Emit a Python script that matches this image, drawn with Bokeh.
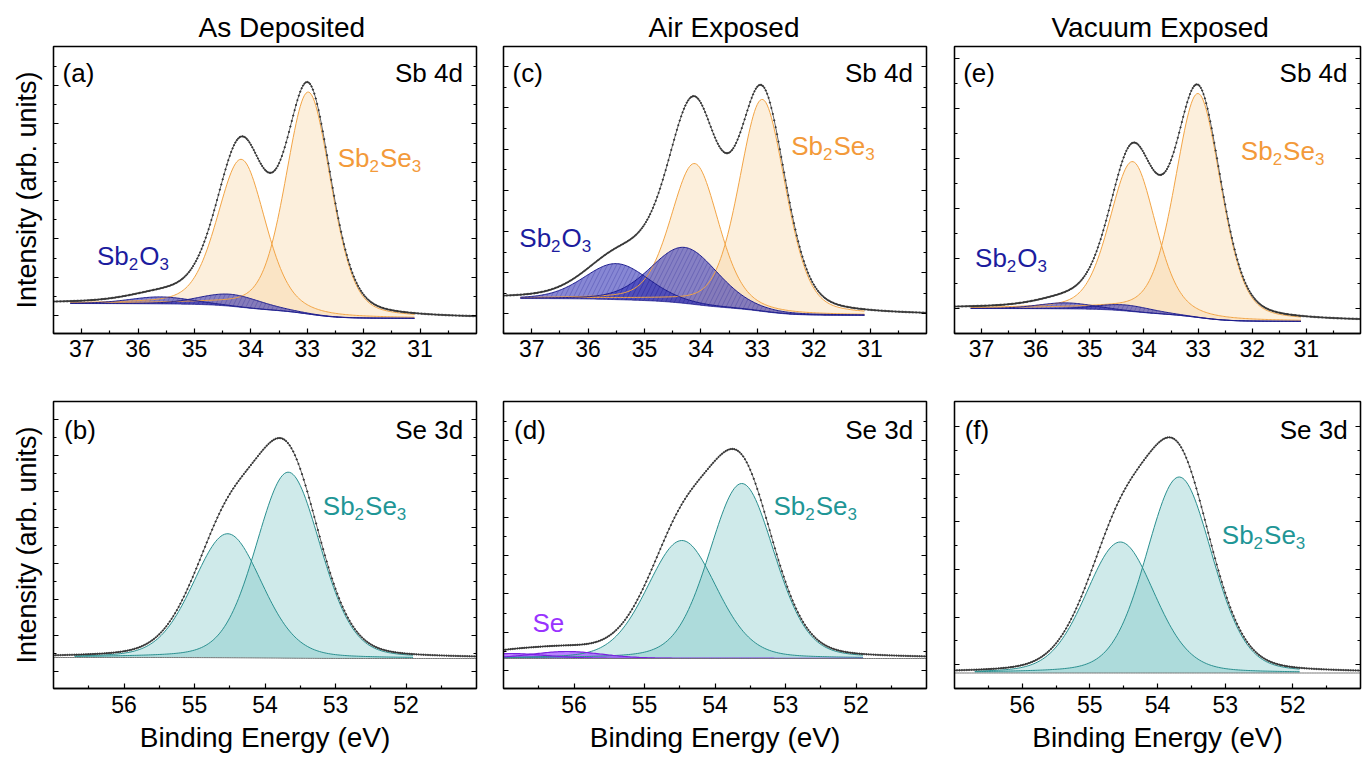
import numpy as np
from bokeh.plotting import figure
from bokeh.layouts import row, column
from bokeh.models import Range1d, FixedTicker, LinearAxis, Label, CustomLabelingPolicy
from bokeh.embed import file_html
from bokeh.resources import INLINE

FONT = "Liberation Sans"

# ---------------- data ----------------
conditions = ["As Deposited", "Air Exposed", "Vacuum Exposed"]
sb_tags = ["(a)", "(c)", "(e)"]
se_tags = ["(b)", "(d)", "(f)"]
sb4d_ticks = [37, 36, 35, 34, 33, 32, 31]
sb4d_minor = [37.5, 36.5, 35.5, 34.5, 33.5, 32.5, 31.5, 30.5]
se3d_ticks = [56, 55, 54, 53, 52]
se3d_minor = [56.5, 55.5, 54.5, 53.5, 52.5, 51.5]

# Sb 4d region: Sb2Se3 doublet (4d5/2, 4d3/2) -- centre (eV), height (a.u.), FWHM (eV)
sb_se_centers = [[32.98, 34.17], [32.91, 34.11], [33.00, 34.21]]
sb_se_heights = [[222, 148], [212, 141], [224, 150]]
sb_se_fwhm = [[0.95, 1.00], [0.97, 1.00], [1.00, 1.00]]
# Sb 4d region: Sb2O3 doublet
sb_ox_centers = [[34.36, 35.60], [34.29, 35.50], [34.35, 35.45]]
sb_ox_heights = [[12, 7], [56, 36], [6, 6]]
sb_ox_fwhm = [[1.30, 1.30], [1.40, 1.35], [1.20, 1.20]]
sb_bg_high = [30, 35, 25]
sb_bg_low = [15, 18, 12]

# Se 3d region: Sb2Se3 doublet (3d5/2, 3d3/2)
se_centers = [[53.67, 54.53], [53.62, 54.47], [53.68, 54.55]]
se_heights = [[186, 124], [175, 118], [196, 131]]
se_fwhm = [[1.08, 1.15], [1.09, 1.16], [1.15, 1.20]]
se_bg_high = [31, 30, 15.5]
se_bg_low = [30, 30, 15.5]
# elemental Se (air exposed only)
se0_centers = [56.1, 56.9]
se0_heights = [7, 5]
se0_fwhm = [1.2, 1.2]

# ---------------- styling / layout ----------------
ORANGE_LINE = "#F2A445"
ORANGE_FILL = "#F7D29A"
ORANGE_TEXT = "#F39A3A"
BLUE_LINE = "#1E1E8E"
BLUE_FILL = "#2424B0"
BLUE_TEXT = "#1C1C9E"
TEAL_LINE = "#2A8F8F"
TEAL_FILL = "#5FB8B8"
TEAL_TEXT = "#1F9696"
PURPLE_LINE = "#7B22E0"
PURPLE_FILL = "#9B4DFF"
PURPLE_TEXT = "#9933FF"

col_w = [489, 451, 422]
col_bl = [53, 14, 14]
col_br = [13, 14, 2]
title_offsets = [145, 145, 97]

top_ticks = [(18.0, 38.33), (19.7, 41.2), (24.7, 50.0)]
bot_ticks = [(17.3, 35.9), (18.0, 38.33), (23.7, 47.7)]

LY = 10  # baseline correction (px units)
sb_label_pos = [(32.46, 166 + LY), (32.40, 178 + LY), (32.21, 173 + LY)]
ox_label_pos = [(36.73, 68 + LY), (37.22, 86 + LY), (37.12, 66 + LY)]
se_label_pos = [(53.18, 173 + LY), (53.17, 173 + LY), (53.05, 144 + LY)]

WID = {"S": 0.667, "b": 0.556, "e": 0.556, "O": 0.778, "2": 0.556, "3": 0.556}


def pv(E, c, h, w, m):
    x = 4.0 * (E - c) ** 2 / w ** 2
    return h * ((1 - m) * np.exp(-np.log(2) * x) + m / (1 + x))


def shirley(total, low, high):
    cum = np.cumsum(total)
    cum = cum / cum[-1]
    return low + (high - low) * cum


def yticker(start, step, ymax=287):
    majors = []
    v = start
    while v < ymax - 2:
        majors.append(round(v, 2))
        v += step
    minors = [round(t + step / 2, 2) for t in majors if t + step / 2 < ymax - 2]
    if start - step / 2 > 1:
        minors.append(round(start - step / 2, 2))
    return FixedTicker(ticks=majors, minor_ticks=minors)


def chem(p, x, y, parts, color, size=26, sub=17):
    off = 0.0
    for txt, is_sub in parts:
        fs = sub if is_sub else size
        p.add_layout(Label(x=x, y=y, x_offset=off, y_offset=-8 if is_sub else 0,
                           text=txt, text_font=FONT, text_font_size=f"{fs}px",
                           text_color=color, text_baseline="alphabetic",
                           text_align="left"))
        off += sum(WID[c] for c in txt) * fs + (1 if is_sub else 0)


def base_fig(ci, top, xr, xt, xm, yt):
    h = 373 if top else 389
    p = figure(width=col_w[ci], height=h, x_range=Range1d(*xr), y_range=Range1d(0, 287),
               output_backend="svg", toolbar_location=None,
               min_border_left=col_bl[ci], min_border_right=col_br[ci],
               min_border_top=46 if top else 28, min_border_bottom=40 if top else 74)
    p.grid.visible = False
    p.background_fill_color = "white"
    p.border_fill_color = "white"
    p.outline_line_color = "black"
    p.outline_line_width = 1.3
    xa = p.xaxis[0]
    xa.ticker = FixedTicker(ticks=xt, minor_ticks=xm)
    xa.major_label_text_font = FONT
    xa.major_label_text_font_size = "23px"
    xa.major_label_text_color = "black"
    xa.major_label_standoff = 6 if top else 7
    xa.major_tick_in = 5
    xa.major_tick_out = 0
    xa.minor_tick_in = 3
    xa.minor_tick_out = 0
    xa.axis_line_width = 1.3
    xa.major_tick_line_width = 1.2
    xa.minor_tick_line_width = 1.2
    p.yaxis.ticker = yt
    raxis = LinearAxis(ticker=yt)
    p.add_layout(raxis, "right")
    for ax in [p.yaxis[0], raxis]:
        ax.major_tick_in = 5
        ax.major_tick_out = 0
        ax.minor_tick_in = 3
        ax.minor_tick_out = 0
        ax.major_label_text_font_size = "0px"
        ax.major_label_policy = CustomLabelingPolicy(code="return []")
        ax.major_label_standoff = 0
        ax.axis_line_width = 1.3
        ax.major_tick_line_width = 1.2
        ax.minor_tick_line_width = 1.2
    if ci == 0:
        ya = p.yaxis[0]
        ya.axis_label = "Intensity (arb. units)"
        ya.axis_label_text_font = FONT
        ya.axis_label_text_font_size = "27px"
        ya.axis_label_text_font_style = "normal"
        ya.axis_label_text_color = "black"
        ya.axis_label_standoff = 12
    if not top:
        xa.axis_label = "Binding Energy (eV)"
        xa.axis_label_text_font = FONT
        xa.axis_label_text_font_size = "28px"
        xa.axis_label_text_font_style = "normal"
        xa.axis_label_text_color = "black"
        xa.axis_label_standoff = 6
    return p


def draw_comp(p, E, base, comp, fill, alpha, line, hatch=False):
    kw = {}
    if hatch:
        kw = dict(hatch_pattern="/", hatch_color=line, hatch_alpha=0.35,
                  hatch_scale=9, hatch_weight=0.8)
    p.varea(x=E, y1=base, y2=base + comp, fill_color=fill, fill_alpha=alpha, **kw)


def tags(p, tag, region, xl, xr_, y):
    p.add_layout(Label(x=xl, y=y, text=tag, text_font=FONT, text_font_size="26px",
                       text_color="black", text_baseline="alphabetic", text_align="left"))
    p.add_layout(Label(x=xr_, y=y, text=region, text_font=FONT, text_font_size="26px",
                       text_color="black", text_baseline="alphabetic", text_align="right"))


top_figs, bot_figs = [], []
E_sb = np.round(np.arange(30.0, 37.5001, 0.025), 4)
E_se = np.round(np.arange(51.0, 57.0001, 0.025), 4)

for ci in range(3):
    # ---------- Sb 4d ----------
    p = base_fig(ci, True, (37.5, 30.0), sb4d_ticks, sb4d_minor,
                 yticker(*top_ticks[ci]))
    p.title.text = conditions[ci]
    p.title.align = "left"
    p.title.offset = title_offsets[ci]
    p.title.text_font = FONT
    p.title.text_font_size = "28px"
    p.title.text_font_style = "normal"
    p.title.text_color = "black"
    p.title.standoff = 8

    se_comps = [pv(E_sb, c, h, w, 0.3) for c, h, w in
                zip(sb_se_centers[ci], sb_se_heights[ci], sb_se_fwhm[ci])]
    ox_comps = [pv(E_sb, c, h, w, 0.2) for c, h, w in
                zip(sb_ox_centers[ci], sb_ox_heights[ci], sb_ox_fwhm[ci])]
    total = sum(se_comps) + sum(ox_comps)
    bg = shirley(total, sb_bg_low[ci], sb_bg_high[ci])
    data = bg + total
    fit = (E_sb >= 31.1) & (E_sb <= 37.2)
    Ef, bgf = E_sb[fit], bg[fit]
    for comp in se_comps:
        draw_comp(p, Ef, bgf, comp[fit], ORANGE_FILL, 0.35, ORANGE_LINE)
    for comp in ox_comps:
        draw_comp(p, Ef, bgf, comp[fit], BLUE_FILL, 0.55, BLUE_LINE, hatch=True)
    for comp in se_comps:
        p.line(Ef, bgf + comp[fit], line_color=ORANGE_LINE, line_width=1)
    for comp in ox_comps:
        p.line(Ef, bgf + comp[fit], line_color=BLUE_LINE, line_width=1)
    p.line(Ef, bgf, line_color=BLUE_LINE, line_width=1, line_alpha=0.7)
    p.line(Ef, data[fit], line_color="#666666", line_width=1)
    p.scatter(E_sb, data, size=1.3, marker="circle", color="#333333")

    tags(p, sb_tags[ci], "Sb 4d", 37.34, 30.24, 251 + LY)
    chem(p, *sb_label_pos[ci], [("Sb", False), ("2", True), ("Se", False), ("3", True)], ORANGE_TEXT)
    chem(p, *ox_label_pos[ci], [("Sb", False), ("2", True), ("O", False), ("3", True)], BLUE_TEXT)
    top_figs.append(p)

    # ---------- Se 3d ----------
    q = base_fig(ci, False, (57.0, 51.0), se3d_ticks, se3d_minor,
                 yticker(*bot_ticks[ci]))
    tc = [pv(E_se, c, h, w, 0.2) for c, h, w in
          zip(se_centers[ci], se_heights[ci], se_fwhm[ci])]
    s0 = [pv(E_se, c, h, w, 0.2) for c, h, w in
          zip(se0_centers, se0_heights, se0_fwhm)] if ci == 1 else []
    total = sum(tc) + (sum(s0) if s0 else 0)
    bg = shirley(total, se_bg_low[ci], se_bg_high[ci])
    data = bg + total
    hi = 57.0 if ci == 1 else 56.7
    fit = (E_se >= 51.9) & (E_se <= hi)
    Ef, bgf = E_se[fit], bg[fit]
    for comp in tc:
        draw_comp(q, Ef, bgf, comp[fit], TEAL_FILL, 0.3, TEAL_LINE)
    for comp in s0:
        draw_comp(q, Ef, bgf, comp[fit], PURPLE_FILL, 0.7, PURPLE_LINE)
    for comp in tc:
        q.line(Ef, bgf + comp[fit], line_color=TEAL_LINE, line_width=1)
    for comp in s0:
        q.line(Ef, bgf + comp[fit], line_color=PURPLE_LINE, line_width=1.2)
    q.line(E_se, bg, line_color="#777777", line_width=1)
    q.line(Ef, data[fit], line_color="#666666", line_width=1)
    q.scatter(E_se, data, size=1.3, marker="circle", color="#333333")

    tags(q, se_tags[ci], "Se 3d", 56.85, 51.19, 249 + LY)
    chem(q, *se_label_pos[ci], [("Sb", False), ("2", True), ("Se", False), ("3", True)], TEAL_TEXT)
    if ci == 1:
        q.add_layout(Label(x=56.59, y=56 + LY, text="Se", text_font=FONT, text_font_size="26px",
                           text_color=PURPLE_TEXT, text_baseline="alphabetic", text_align="left"))
    bot_figs.append(q)

layout = column(row(*top_figs, spacing=0), row(*bot_figs, spacing=0), spacing=0)
html = file_html(layout, INLINE)
html = html.replace("<head>", "<head><style>html,body{margin:0;padding:0;}</style>", 1)
open("out.html", "w").write(html)
